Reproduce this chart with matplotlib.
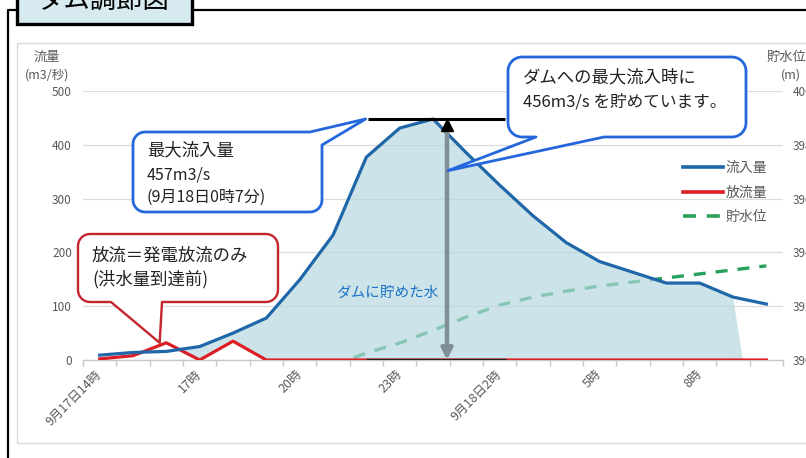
import numpy as np
import matplotlib
matplotlib.use("Agg")
import matplotlib.pyplot as plt
from matplotlib.patches import Polygon, Rectangle
from matplotlib.lines import Line2D
from matplotlib.transforms import Affine2D

plt.rcParams['font.family'] = ['Noto Sans CJK JP', 'DejaVu Sans']
plt.rcParams['axes.unicode_minus'] = False

W, H = 806, 458

# ---------------- data (hourly, 9/17 14時 -> 9/18 10時) ----------------
hours = ["14", "15", "16", "17", "18", "19", "20", "21", "22", "23", "0",
         "1", "2", "3", "4", "5", "6", "7", "8", "9", "10"]
tick_idx = [0, 3, 6, 9, 12, 15, 18]
tick_labels = ["9月17日14時", "17時", "20時", "23時", "9月18日2時", "5時", "8時"]
inflow = [9, 14, 16, 25, 50, 78, 149, 232, 377, 431, 448, 385, 325, 268,
          218, 183, 163, 143, 143, 117, 104]          # 流入量 m3/s
outflow = [2, 8, 32, 0, 35, 0, 0, 0, 0, 0, 0, 0, 0, 0, 0, 0, 0, 0, 0, 0, 0]  # 放流量
level = [np.nan] * 7 + [389.8, 390.26, 390.63, 391.1, 391.6, 392.04, 392.34,
                        392.56, 392.75, 392.9, 393.05, 393.2, 393.35, 393.5]  # 貯水位 m

x = np.arange(len(hours))
inflow = np.array(inflow, dtype=float)
outflow = np.array(outflow, dtype=float)
level = np.array(level, dtype=float)

BLUE = '#1f67a8'
RED = '#dc1f26'
GREEN = '#27a05c'
FILL = '#b5d8df'
GREY_TXT = '#595959'
CALL_BLUE = '#2467dc'
CALL_RED = '#c3252c'

fig = plt.figure(figsize=(W / 100, H / 100), dpi=100)
PX = Affine2D().scale(1 / W, -1 / H).translate(0, 1) + fig.transFigure

ax = fig.add_axes([83 / W, 98 / H, 700 / W, 269 / H])
ax2 = ax.twinx()
ax.set_zorder(ax2.get_zorder() + 1)
ax.patch.set_visible(False)

ax.set_xlim(-0.5, len(hours) - 0.5)
ax.set_ylim(0, 500)
ax2.set_ylim(390, 400)

# water level (secondary axis, drawn beneath)
ax2.plot(x, level, color=GREEN, lw=2.4, dashes=(3.6, 3.0), solid_capstyle='butt')

# stored water area
sl = slice(2, 20)
ax.fill_between(x[sl], outflow[sl], inflow[sl], where=inflow[sl] >= outflow[sl],
                interpolate=True, color=FILL, alpha=0.68, lw=0, zorder=2.5)
ax.fill([x[19], x[19], x[19] + 0.3], [inflow[19], 0, 0], color=FILL, alpha=0.68,
        lw=0, zorder=2.5)

ax.plot(x, outflow, color=RED, lw=2.3, zorder=2.7, label='放流量')
ax.plot(x, inflow, color=BLUE, lw=2.3, zorder=3, label='流入量')

# peak lines + arrow
peak = inflow.max()
ax.hlines(peak, 8.05, 12.15, color='black', lw=2.2, zorder=4)
ax.hlines(0, 8.0, 12.2, color='#222222', lw=2.4, zorder=4)
ax.annotate('', xy=(10.42, 0), xytext=(10.42, peak - 12),
            arrowprops=dict(arrowstyle='-|>', color='#7f9196', lw=3.2,
                            mutation_scale=16, shrinkA=0, shrinkB=0), zorder=4)
ax.plot(10.42, peak - 12, marker='^', color='black', ms=9, zorder=5)
ax.text(8.64, 126, 'ダムに貯めた水', color='#1a72c6', fontsize=10.5,
        ha='center', va='center', zorder=5)

# axes styling
for s in ('left', 'right', 'top'):
    ax.spines[s].set_visible(False)
    ax2.spines[s].set_visible(False)
ax2.spines['bottom'].set_visible(False)
ax.spines['bottom'].set_color('#c8c8c8')
ax.spines['bottom'].set_linewidth(1.0)
ax.set_yticks(np.arange(0, 501, 100))
ax2.set_yticks(np.arange(390, 401, 2))
ax.yaxis.grid(True, color='#dcdcdc', lw=0.9)
ax.set_axisbelow(True)
ax.tick_params(axis='y', length=0, pad=8, labelsize=8.5, labelcolor=GREY_TXT)
ax2.tick_params(axis='y', length=0, pad=7, labelsize=8.5, labelcolor=GREY_TXT)
ax.set_xticks(tick_idx)
ax.set_xticklabels(tick_labels, rotation=45, ha='right', va='center',
                   rotation_mode='anchor', fontsize=9, color=GREY_TXT)
ax.set_xticks(np.arange(-0.5, len(hours), 1), minor=True)
ax.tick_params(axis='x', which='major', length=0, pad=9)
ax.tick_params(axis='x', which='minor', length=4, color='#c8c8c8', width=1)

# legend
h1, = ax.plot([], [], color=BLUE, lw=2.6)
h2, = ax.plot([], [], color=RED, lw=2.6)
h3, = ax.plot([], [], color=GREEN, lw=2.6, dashes=(3.6, 3.0))
ax.legend([h1, h2, h3], ['流入量', '放流量', '貯水位'], frameon=False,
          loc='upper left', bbox_to_anchor=(683 / W, 1 - 161 / H),
          bbox_transform=fig.transFigure, borderpad=0, borderaxespad=0,
          handlelength=2.9, handletextpad=0.15, labelspacing=0.75,
          fontsize=10, labelcolor=GREY_TXT)

# axis titles
fig.text(47, 57, '流量', transform=PX, ha='center', va='center', fontsize=9.5, color=GREY_TXT)
fig.text(47, 75, '(m3/秒)', transform=PX, ha='center', va='center', fontsize=9, color=GREY_TXT)
fig.text(767, 57, '貯水位', transform=PX, ha='left', va='center', fontsize=9.5, color=GREY_TXT)
fig.text(781, 75, '(m)', transform=PX, ha='left', va='center', fontsize=9, color=GREY_TXT)

# frames
fig.add_artist(Rectangle((17, 43), 820, 400, transform=PX, fill=False,
                         ec='#d9d9d9', lw=1.0, zorder=1))
fig.add_artist(Line2D([8, 8, 17], [470, 10, 10], transform=PX, color='black', lw=1.6, zorder=9))
fig.add_artist(Line2D([192, 810], [10, 10], transform=PX, color='black', lw=1.6, zorder=9))
fig.add_artist(Rectangle((17, -20), 175, 44, transform=PX, fc='#d6eaf0',
                         ec='black', lw=2.4, zorder=10))
fig.text(103, 0, 'ダム調節図', transform=PX, ha='center', va='center',
         fontsize=19, color='black', zorder=11)


def d2p(xv, yv):
    dx, dy = ax.transData.transform((xv, yv))
    return dx, H - dy


def bubble(x0, y0, x1, y1, r, where, tail):
    pts = []

    def arc(cx, cy, a0, a1):
        for a in np.linspace(a0, a1, 10):
            pts.append((cx + r * np.cos(a), cy + r * np.sin(a)))

    arc(x0 + r, y0 + r, np.pi, 1.5 * np.pi)
    if where == 'tr':
        pts.extend(tail)
    else:
        arc(x1 - r, y0 + r, 1.5 * np.pi, 2 * np.pi)
    arc(x1 - r, y1 - r, 0, 0.5 * np.pi)
    if where == 'bottom':
        pts.extend(tail)
    arc(x0 + r, y1 - r, 0.5 * np.pi, np.pi)
    return pts


tip1 = d2p(7.98, peak)
tip2 = d2p(10.45, 352)
tip3 = d2p(1.8, 32)

c1 = bubble(133, 132, 322, 212, 12, 'tr', [(310, 132), tip1, (322, 145)])
c2 = bubble(508, 57, 746, 137, 14, 'bottom', [(604, 137), tip2, (536, 137)])
c3 = bubble(78, 234, 278, 302, 12, 'bottom', [(162, 302), tip3, (111, 302)])
fig.add_artist(Polygon(c1, closed=True, transform=PX, fc='white', ec=CALL_BLUE,
                       lw=2.0, joinstyle='round', zorder=10))
fig.add_artist(Polygon(c2, closed=True, transform=PX, fc='white', ec=CALL_BLUE,
                       lw=2.0, joinstyle='round', zorder=10))
fig.add_artist(Polygon(c3, closed=True, transform=PX, fc='white', ec=CALL_RED,
                       lw=1.7, joinstyle='round', zorder=10))

TXT = '#222222'
fig.text(147, 150, '最大流入量', transform=PX, va='center', fontsize=12.5, color=TXT, zorder=11)
fig.text(147, 175, '457m3/s', transform=PX, va='center', fontsize=11.5, color=TXT, zorder=11)
fig.text(147, 197, '(9月18日0時7分)', transform=PX, va='center', fontsize=11.5, color=TXT, zorder=11)
fig.text(523, 77, 'ダムへの最大流入時に', transform=PX, va='center', fontsize=12.5, color=TXT, zorder=11)
fig.text(523, 102, '456m3/s を貯めています。', transform=PX, va='center', fontsize=12, color=TXT, zorder=11)
fig.text(92, 256, '放流＝発電放流のみ', transform=PX, va='center', fontsize=12.5, color=TXT, zorder=11)
fig.text(92, 279, '(洪水量到達前)', transform=PX, va='center', fontsize=12.5, color=TXT, zorder=11)

fig.savefig('out.png', dpi=100)
